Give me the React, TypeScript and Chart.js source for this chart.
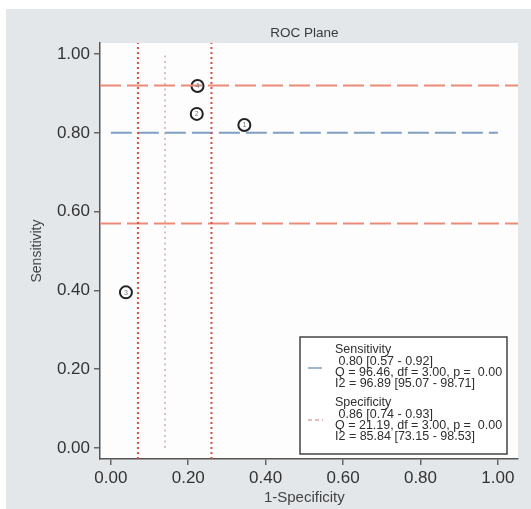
import React, { useEffect, useRef } from "react";
import { Chart, registerables } from "chart.js";

Chart.register(...registerables);

// Study points (1 - specificity, sensitivity)
const studyIds = ["1", "2", "3", "4"];
const studyFpr = [0.345, 0.222, 0.039, 0.224];
const studySens = [0.82, 0.848, 0.395, 0.919];

// Summary estimates: estimate, lower, upper
const sensSummary = [0.8, 0.57, 0.92];
const specSummary = [0.86, 0.74, 0.93];

const tickValues = [0, 0.2, 0.4, 0.6, 0.8, 1.0];
const axisX = [-0.028, 1.052];
const axisY = [-0.028, 1.028];

const legendLines = [
  ["Sensitivity", " 0.80 [0.57 - 0.92]", "Q = 96.46, df = 3.00, p =  0.00", "I2 = 96.89 [95.07 - 98.71]"],
  ["Specificity", " 0.86 [0.74 - 0.93]", "Q = 21.19, df = 3.00, p =  0.00", "I2 = 85.84 [73.15 - 98.53]"],
];

const FONT = "Arial, 'Liberation Sans', sans-serif";

export default function App() {
  const ref = useRef<HTMLCanvasElement | null>(null);

  useEffect(() => {
    if (!ref.current) return;
    const specEst = 1 - specSummary[0];
    const specLo = 1 - specSummary[2];
    const specHi = 1 - specSummary[1];
    const hline = (y: number) => [
      { x: axisX[0], y },
      { x: axisX[1], y },
    ];
    const vline = (x: number, y0: number, y1: number) => [
      { x, y: y0 },
      { x, y: y1 },
    ];
    const lineDs = (data: any, color: string, width: number, dash: number[]) => ({
      type: "line" as const,
      data,
      borderColor: color,
      borderWidth: width,
      borderDash: dash,
      pointRadius: 0,
      fill: false,
      showLine: true,
    });

    const bgPlugin = {
      id: "bg",
      beforeDraw(chart: any) {
        const { ctx, chartArea } = chart;
        ctx.save();
        ctx.fillStyle = "#ffffff";
        ctx.fillRect(0, 0, chart.width, chart.height);
        ctx.fillStyle = "#e4e7ea";
        ctx.fillRect(6, 9, chart.width - 6, chart.height - 9);
        ctx.fillStyle = "#fefdfd";
        ctx.fillRect(chartArea.left, chartArea.top, chartArea.right - chartArea.left, chartArea.bottom - chartArea.top);
        ctx.restore();
      },
      afterDatasetsDraw(chart: any) {
        const { ctx, chartArea, scales } = chart;
        const xs = scales.x;
        const ys = scales.y;
        ctx.save();
        // study labels
        ctx.fillStyle = "#777";
        ctx.font = `7px ${FONT}`;
        ctx.textAlign = "center";
        ctx.textBaseline = "middle";
        studyIds.forEach((id, i) => {
          ctx.fillText(id, xs.getPixelForValue(studyFpr[i]), ys.getPixelForValue(studySens[i]) + 0.5);
        });
        // legend box
        const bx = chartArea.right - 218;
        const by = chartArea.bottom - 122;
        const bw = 207;
        const bh = 117;
        ctx.fillStyle = "#ffffff";
        ctx.fillRect(bx, by, bw, bh);
        ctx.strokeStyle = "#444";
        ctx.lineWidth = 1.5;
        ctx.strokeRect(bx, by, bw, bh);
        ctx.font = `12.5px ${FONT}`;
        ctx.textAlign = "left";
        ctx.fillStyle = "#2e2e2e";
        const tx = bx + 35;
        const starts = [by + 13, by + 66];
        legendLines.forEach((group, g) => {
          group.forEach((line, k) => {
            ctx.fillText(line, tx, starts[g] + k * 11.3);
          });
        });
        // samples
        ctx.lineWidth = 1.5;
        ctx.strokeStyle = "#7f9fc2";
        ctx.setLineDash([]);
        ctx.beginPath();
        ctx.moveTo(bx + 8, by + 31);
        ctx.lineTo(bx + 22, by + 31);
        ctx.stroke();
        ctx.strokeStyle = "#d9aaa0";
        ctx.setLineDash([4, 3]);
        ctx.beginPath();
        ctx.moveTo(bx + 8, by + 83);
        ctx.lineTo(bx + 23, by + 83);
        ctx.stroke();
        ctx.restore();
      },
      afterDraw(chart: any) {
        const { ctx, chartArea, scales } = chart;
        const xs = scales.x;
        const ys = scales.y;
        ctx.save();
        ctx.fillStyle = "#3a3a3a";
        ctx.textAlign = "center";
        ctx.textBaseline = "middle";
        ctx.font = `13.5px ${FONT}`;
        ctx.fillText("ROC Plane", xs.getPixelForValue(0.5), chartArea.top - 10);
        ctx.fillStyle = "#444";
        ctx.font = `15px ${FONT}`;
        ctx.fillText("1-Specificity", xs.getPixelForValue(0.5), chartArea.bottom + 39);
        ctx.translate(37, ys.getPixelForValue(0.5));
        ctx.rotate(-Math.PI / 2);
        ctx.font = `14px ${FONT}`;
        ctx.fillText("Sensitivity", 0, 0);
        ctx.restore();
      },
    };

    const chart = new Chart(ref.current, {
      type: "scatter",
      data: {
        datasets: [
          lineDs(vline(specEst, 0, 1), "#cfaea8", 1.5, [2, 3.5]),
          lineDs(vline(specLo, axisY[0], axisY[1]), "#dc4c40", 2, [2, 3]),
          lineDs(vline(specHi, axisY[0], axisY[1]), "#dc4c40", 2, [2, 3]),
          lineDs(hline(sensSummary[2]), "#ea8a78", 2, [21, 6]),
          lineDs(hline(sensSummary[1]), "#ea8a78", 2, [21, 6]),
          lineDs(
            [
              { x: 0, y: sensSummary[0] },
              { x: 1, y: sensSummary[0] },
            ],
            "#7f9fc2",
            2,
            [21, 6]
          ),
          {
            type: "scatter" as const,
            data: studyFpr.map((x, i) => ({ x, y: studySens[i] })),
            pointRadius: 6,
            pointHoverRadius: 6,
            pointBorderWidth: 2,
            pointBorderColor: "#222",
            pointBackgroundColor: "#ffffff",
          },
        ] as any,
      },
      options: {
        animation: false,
        responsive: false,
        events: [],
        layout: { padding: { top: 43, right: 13, left: 0, bottom: 0 } },
        plugins: { legend: { display: false }, tooltip: { enabled: false }, title: { display: false } },
        scales: {
          x: {
            type: "linear",
            min: axisX[0],
            max: axisX[1],
            afterBuildTicks: (s: any) => {
              s.ticks = tickValues.map((v) => ({ value: v }));
            },
            afterFit: (s: any) => {
              s.height = 50;
            },
            ticks: {
              color: "#333",
              font: { family: FONT, size: 17 },
              padding: 3,
              maxRotation: 0,
              callback: (v: any) => Number(v).toFixed(2),
            },
            grid: { drawOnChartArea: false, drawTicks: true, tickLength: 6, color: "#666", lineWidth: 1.5 },
            border: { display: true, color: "#555", width: 1.5 },
          },
          y: {
            type: "linear",
            min: axisY[0],
            max: axisY[1],
            afterBuildTicks: (s: any) => {
              s.ticks = tickValues.map((v) => ({ value: v }));
            },
            afterFit: (s: any) => {
              s.width = 100;
            },
            ticks: {
              color: "#333",
              font: { family: FONT, size: 17 },
              padding: 4,
              callback: (v: any) => Number(v).toFixed(2),
            },
            grid: { drawOnChartArea: false, drawTicks: true, tickLength: 6, color: "#666", lineWidth: 1.5 },
            border: { display: true, color: "#555", width: 1.5 },
          },
        },
      },
      plugins: [bgPlugin],
    });
    return () => chart.destroy();
  }, []);

  return (
    <div style={{ position: "fixed", left: 0, top: 0, width: 531, height: 509 }}>
      <canvas ref={ref} width={531} height={509} style={{ width: 531, height: 509, display: "block" }} />
    </div>
  );
}
